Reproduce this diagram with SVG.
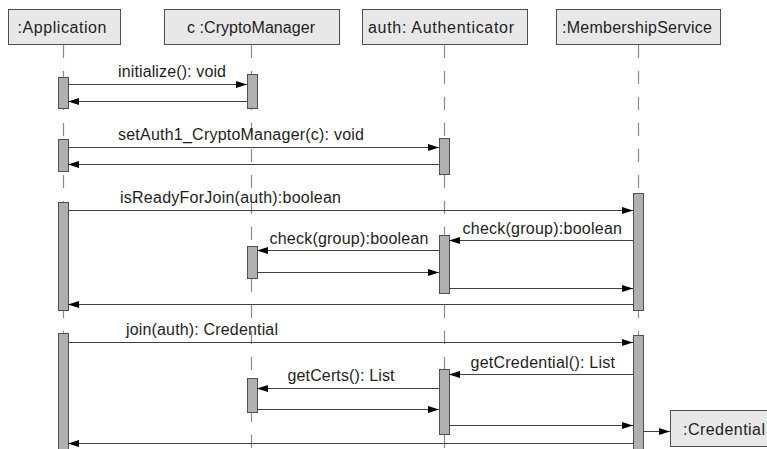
<svg xmlns="http://www.w3.org/2000/svg" width="767" height="449" viewBox="0 0 767 449">
  <style>
    .head { fill: #e8e8e8; stroke: #505050; stroke-width: 1; }
    .act { fill: #b0b0b0; stroke: #505050; stroke-width: 1; }
    .life { stroke: #8a8a8a; stroke-width: 1.2; stroke-dasharray: 13 13; fill: none; }
    .msg { stroke: #404040; stroke-width: 1; fill: none; marker-end: url(#arrow); }
    text { font-family: "Liberation Sans", Arial, sans-serif; font-size: 16px; fill: #1e1e1e; }
    .hl { text-anchor: middle; }
  </style>
  <defs>
    <marker id="arrow" markerUnits="userSpaceOnUse" markerWidth="12" markerHeight="10" refX="11" refY="4" orient="auto">
      <path d="M0,0.5 L11,4 L0,7.5 Z" fill="#000"/>
    </marker>
  </defs>

  <rect width="767" height="449" fill="#ffffff"/>

  <!-- lifelines -->
  <g id="lifelines">
    <line class="life" x1="63.5" y1="45" x2="63.5" y2="449"/>
    <line class="life" x1="251.5" y1="45" x2="251.5" y2="449"/>
    <line class="life" x1="444.5" y1="45" x2="444.5" y2="449"/>
    <line class="life" x1="638.5" y1="45" x2="638.5" y2="449"/>
  </g>

  <!-- participants -->
  <g id="application">
    <rect class="head" x="8.5" y="9.5" width="112" height="35"/>
    <text class="hl" x="62" y="33" textLength="89" lengthAdjust="spacing">:Application</text>
    <rect class="act" x="58.5" y="77.5" width="10" height="31"/>
    <rect class="act" x="58.5" y="139.5" width="10" height="32"/>
    <rect class="act" x="58.5" y="202.5" width="10" height="108"/>
    <rect class="act" x="58.5" y="333.5" width="10" height="130"/>
  </g>
  <g id="crypto-manager">
    <rect class="head" x="164.5" y="9.5" width="175" height="35"/>
    <text class="hl" x="251" y="33" textLength="128" lengthAdjust="spacing">c :CryptoManager</text>
    <rect class="act" x="247.5" y="74.5" width="10" height="34"/>
    <rect class="act" x="247.5" y="246.5" width="10" height="32"/>
    <rect class="act" x="247.5" y="378.5" width="10" height="34"/>
  </g>
  <g id="authenticator">
    <rect class="head" x="362.5" y="9.5" width="165" height="35"/>
    <text class="hl" x="441" y="33" textLength="146" lengthAdjust="spacing">auth: Authenticator</text>
    <rect class="act" x="439.5" y="138.5" width="10" height="36"/>
    <rect class="act" x="439.5" y="235.5" width="10" height="58"/>
    <rect class="act" x="439.5" y="369.5" width="10" height="65"/>
  </g>
  <g id="membership-service">
    <rect class="head" x="556.5" y="9.5" width="164" height="35"/>
    <text class="hl" x="637" y="33" textLength="150" lengthAdjust="spacing">:MembershipService</text>
    <rect class="act" x="633.5" y="193.5" width="10" height="117"/>
    <rect class="act" x="633.5" y="335.5" width="10" height="130"/>
  </g>
  <g id="credential">
    <rect class="head" x="670.5" y="410.5" width="110" height="36"/>
    <text x="683" y="435" textLength="82" lengthAdjust="spacing">:Credential</text>
  </g>

  <!-- messages -->
  <g id="connectors">
    <line class="msg" x1="68" y1="84.5" x2="247" y2="84.5"/>
    <line class="msg" x1="247" y1="101.5" x2="68" y2="101.5"/>

    <line class="msg" x1="68" y1="147.5" x2="439" y2="147.5"/>
    <line class="msg" x1="439" y1="164.5" x2="68" y2="164.5"/>

    <line class="msg" x1="68" y1="210.5" x2="633" y2="210.5"/>
    <line class="msg" x1="633" y1="240.5" x2="449" y2="240.5"/>
    <line class="msg" x1="439" y1="250.5" x2="257" y2="250.5"/>
    <line class="msg" x1="257" y1="272.5" x2="439" y2="272.5"/>
    <line class="msg" x1="449" y1="288.5" x2="633" y2="288.5"/>
    <line class="msg" x1="633" y1="304.5" x2="68" y2="304.5"/>

    <line class="msg" x1="68" y1="342.5" x2="633" y2="342.5"/>
    <line class="msg" x1="633" y1="374.5" x2="449" y2="374.5"/>
    <line class="msg" x1="439" y1="388.5" x2="257" y2="388.5"/>
    <line class="msg" x1="257" y1="409.5" x2="439" y2="409.5"/>
    <line class="msg" x1="449" y1="425.5" x2="633" y2="425.5"/>
    <line class="msg" x1="643" y1="431.5" x2="670" y2="431.5"/>
    <line class="msg" x1="633" y1="443.5" x2="68" y2="443.5"/>
  </g>

  <!-- message labels -->
  <g id="labels">
    <text x="118" y="77" textLength="108" lengthAdjust="spacing">initialize(): void</text>
    <text x="118" y="140" textLength="246" lengthAdjust="spacing">setAuth1_CryptoManager(c): void</text>
    <text x="120" y="203" textLength="221" lengthAdjust="spacing">isReadyForJoin(auth):boolean</text>
    <text x="462.5" y="233.5" textLength="159.5" lengthAdjust="spacing">check(group):boolean</text>
    <text x="269.5" y="243.5" textLength="159" lengthAdjust="spacing">check(group):boolean</text>
    <text x="126" y="335" textLength="152" lengthAdjust="spacing">join(auth): Credential</text>
    <text x="470.5" y="367.5" textLength="144.5" lengthAdjust="spacing">getCredential(): List</text>
    <text x="287.5" y="381" textLength="107" lengthAdjust="spacing">getCerts(): List</text>
  </g>
</svg>
